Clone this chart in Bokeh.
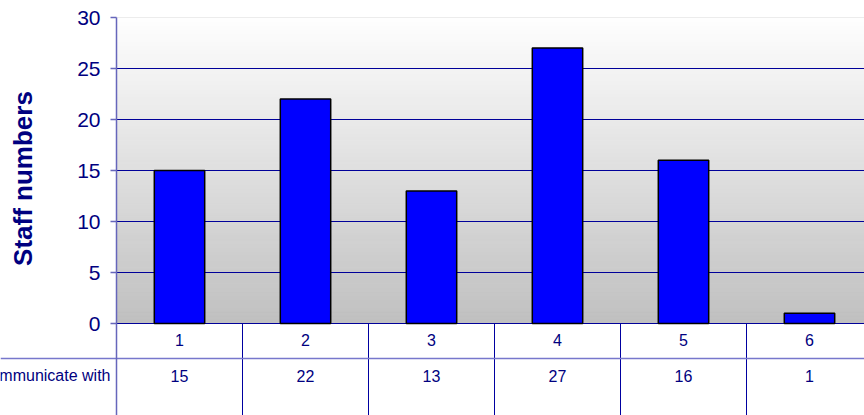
import math
from bokeh.plotting import figure
from bokeh.models import Range1d, LinearAxis, FixedTicker
from bokeh.core.properties import value
from bokeh.embed import file_html
from bokeh.resources import INLINE

# ---- data ----
categories = [1, 2, 3, 4, 5, 6]
category_labels = ["1", "2", "3", "4", "5", "6"]
staff_numbers = [15, 22, 13, 27, 16, 1]
row_label = "Communicate with"
y_ticks = [0, 5, 10, 15, 20, 25, 30]
y_title = "Staff numbers"

# ---- geometry (pixels -> data) ----
W, H = 864, 415
px_per_cat = 126.0
frame_left_px = 116.0          # screen x of the plot-area left edge
px_per_unit = 10.2             # 51 px per 5 units -> crisp grid lines
zero_px = 323.0                # screen y of value 0
x_start = 0.5 - frame_left_px / px_per_cat
x_end = 0.5 + (W - frame_left_px) / px_per_cat
y_end = zero_px / px_per_unit
y_start = -(H - zero_px) / px_per_unit


def ypx(py):
    """screen y (pixels) -> data y"""
    return (zero_px - py) / px_per_unit


def xpx(px):
    """screen x (pixels) -> data x"""
    return 0.5 + (px - frame_left_px) / px_per_cat


NAVY = "#000080"
FONT = "Liberation Sans"

p = figure(width=W, height=H, output_backend="svg", toolbar_location=None,
           x_range=Range1d(x_start, x_end), y_range=Range1d(y_start, y_end),
           x_axis_location=None, y_axis_location=None,
           min_border_left=0, min_border_right=0, min_border_top=0,
           min_border_bottom=0, outline_line_color=None,
           background_fill_color="white", border_fill_color="white")
p.xgrid.visible = False
p.ygrid.visible = False

# gradient background of plot area (white at top -> silver at bottom)
n = 77
step = 30 / n
bands = [step * i for i in range(n)]
cols = []
for i in range(n):
    t = (i + 0.5) / n
    v = int(round(192 + (254 - 192) * t))
    cols.append("#%02x%02x%02x" % (v, v, v))
p.quad(left=0.5, right=x_end, bottom=bands, top=[b + step for b in bands],
       fill_color=cols, line_color=cols, line_width=1)

# top border of plot area
p.multi_line(xs=[[0.5, x_end]], ys=[[30, 30]], line_color="#ececec", line_width=1)

# grid lines
grid_y = y_ticks[:-1]
p.multi_line(xs=[[0.5, x_end] for _ in grid_y], ys=[[g, g] for g in grid_y],
             line_color="#000099", line_width=1)

# bars
p.vbar(x=categories, top=staff_numbers, width=0.4, fill_color="#0000FF",
       line_color="black", line_width=1.5)

# data table lines
bounds = [c + 0.5 for c in categories[:-1]]
p.multi_line(xs=[[b, b] for b in bounds], ys=[[0, y_start] for _ in bounds],
             line_color="#0000A0", line_width=1)
row_sep = ypx(358)
p.multi_line(xs=[[x_start, x_end]], ys=[[row_sep, row_sep]],
             line_color="#7777CC", line_width=1.5)

row1_y = ypx(339)
row2_y = ypx(375)
p.text(x=categories, y=[row1_y] * 6, text=category_labels, text_align="center",
       text_baseline="middle", text_font=value(FONT), text_font_size="16px",
       text_color=NAVY)
p.text(x=categories, y=[row2_y] * 6, text=[str(v) for v in staff_numbers],
       text_align="center", text_baseline="middle", text_font=value(FONT),
       text_font_size="16px", text_color=NAVY)
p.text(x=[xpx(110)], y=[row2_y], text=[row_label], text_align="right",
       text_baseline="middle", text_font=value(FONT), text_font_size="16px",
       text_color=NAVY)

# axis title
p.text(x=[xpx(22)], y=[ypx(178)], text=[y_title],
       angle=math.pi / 2, text_align="center", text_baseline="middle",
       text_font=value(FONT), text_font_size="26px", text_font_style="bold",
       text_color=NAVY)

# y axis at fixed location (left edge of the plot area)
yaxis = LinearAxis(fixed_location=0.5, ticker=FixedTicker(ticks=y_ticks),
                   bounds=(y_start, 30))
yaxis.axis_line_color = "#6666BB"
yaxis.axis_line_width = 1.5
yaxis.major_tick_line_color = "#6666BB"
yaxis.major_tick_line_width = 1.5
yaxis.major_tick_out = 6
yaxis.major_tick_in = 0
yaxis.minor_tick_line_color = None
yaxis.major_label_standoff = 10
yaxis.major_label_text_font = FONT
yaxis.major_label_text_font_size = "21px"
yaxis.major_label_text_color = NAVY
p.add_layout(yaxis, "left")

open("out.html", "w").write(file_html(p, INLINE))
